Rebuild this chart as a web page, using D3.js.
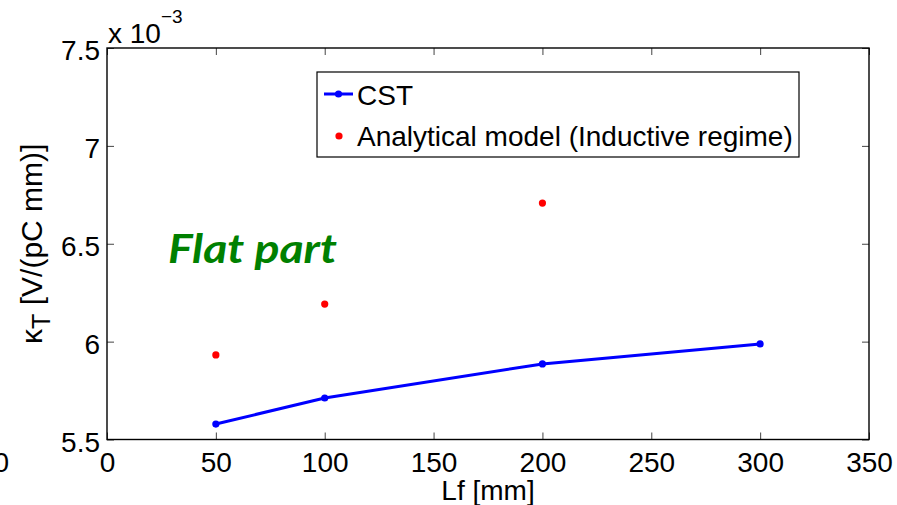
<!DOCTYPE html>
<html>
<head>
<meta charset="utf-8">
<script src="https://cdn.jsdelivr.net/npm/d3@7"></script>
<style>
  body { margin: 0; background: #fff; }
  svg { display: block; }
  text { font-family: "Liberation Sans", Arial, Helvetica, sans-serif; }
</style>
</head>
<body>
<svg id="chart" width="897" height="505"></svg>
<script>
// ---- data ----
const lf = [50, 100, 200, 300];                       // Lf [mm]
const cst = [5.579e-3, 5.712e-3, 5.886e-3, 5.988e-3];  // CST
const lfModel = [50, 100, 200];
const analytical = [5.932e-3, 6.192e-3, 6.708e-3];    // Analytical model (Inductive regime)
const xTicks = [0, 50, 100, 150, 200, 250, 300, 350];
const yTicks = [5.5e-3, 6e-3, 6.5e-3, 7e-3, 7.5e-3];
const seriesNames = ["CST", "Analytical model (Inductive regime)"];

const svg = d3.select("#chart");
const L = 107, R = 869, T = 48, B = 439.5;
const x = d3.scaleLinear().domain([0, 350]).range([L, R]);
const y = d3.scaleLinear().domain([5.5e-3, 7.5e-3]).range([B, T]);
const fs = 28;
const tickLen = 7;

const g = svg.append("g");
// bottom axis
const xb = d3.axisBottom(x).tickValues(xTicks).tickSize(-tickLen).tickSizeOuter(0).tickFormat(d => d3.format("d")(d)).tickPadding(0);
const gxb = g.append("g").attr("transform", `translate(0,${B})`).call(xb);
gxb.selectAll("text").attr("font-size", fs).attr("fill", "#000").attr("dy", null).attr("y", 32.5)
  .style("font-family", '"Liberation Sans", Arial, sans-serif');
// top axis (ticks only)
const xt = d3.axisTop(x).tickValues(xTicks).tickSize(-tickLen).tickSizeOuter(0).tickFormat("");
g.append("g").attr("transform", `translate(0,${T})`).call(xt);
// left axis
const yl = d3.axisLeft(y).tickValues(yTicks).tickSize(-tickLen).tickSizeOuter(0).tickFormat(d => d3.format(".2~f")(d * 1e3)).tickPadding(0);
const gyl = g.append("g").attr("transform", `translate(${L},0)`).call(yl);
gyl.selectAll("text").attr("font-size", fs).attr("fill", "#000").attr("x", -7).attr("dy", "0.42em")
  .style("font-family", '"Liberation Sans", Arial, sans-serif');
// right axis (ticks only)
const yr = d3.axisRight(y).tickValues(yTicks).tickSize(-tickLen).tickSizeOuter(0).tickFormat("");
g.append("g").attr("transform", `translate(${R},0)`).call(yr);

g.selectAll(".tick line").attr("stroke", "#444").attr("stroke-width", 1);
g.selectAll(".domain").remove();
// box
g.append("rect").attr("x", L).attr("y", T).attr("width", R - L).attr("height", B - T)
  .attr("fill", "none").attr("stroke", "#000").attr("stroke-width", 1.4);

// stray cropped label at far left
svg.append("text").attr("x", 9).attr("y", 472).attr("text-anchor", "end").attr("font-size", fs).text("0");

// exponent label
const ex = svg.append("text").attr("x", 108).attr("y", 43).attr("font-size", fs);
ex.append("tspan").text("x 10");
ex.append("tspan").attr("font-size", 19).attr("dy", -20).text("\u22123");

// Axis labels
svg.append("text").attr("x", (L + R) / 2).attr("y", 500).attr("text-anchor", "middle").attr("font-size", fs).text("Lf [mm]");
const yLab = svg.append("text").attr("transform", `translate(42,${(T + B) / 2}) rotate(-90)`)
  .attr("text-anchor", "middle").attr("font-size", 30);
yLab.append("tspan").text("\u03ba");
yLab.append("tspan").attr("font-size", 25).attr("dy", 8).text("T");
yLab.append("tspan").attr("dy", -8).text(" [V/(pC mm)]");

// CST line
const line = d3.line().x((d, i) => x(lf[i])).y(d => y(d));
svg.append("path").datum(cst).attr("d", line).attr("fill", "none").attr("stroke", "#0000ff").attr("stroke-width", 3);
svg.selectAll("circle.cst").data(cst).enter().append("circle").attr("class", "cst")
  .attr("cx", (d, i) => x(lf[i])).attr("cy", d => y(d)).attr("r", 3.6).attr("fill", "#0000ff");

// analytical dots
svg.selectAll("circle.ana").data(analytical).enter().append("circle").attr("class", "ana")
  .attr("cx", (d, i) => x(lfModel[i])).attr("cy", d => y(d)).attr("r", 3.6).attr("fill", "#ff0000");

// annotation
svg.append("text").attr("x", 168).attr("y", 263).attr("font-size", 40)
  .attr("font-weight", "bold").attr("font-style", "italic").attr("fill", "#008000")
  .style("font-family", 'Lato, "Open Sans", sans-serif')
  .attr("textLength", 169).attr("lengthAdjust", "spacingAndGlyphs").text("Flat part");

// legend
const lg = svg.append("g");
lg.append("rect").attr("x", 317).attr("y", 72).attr("width", 482).attr("height", 85)
  .attr("fill", "#fff").attr("stroke", "#000").attr("stroke-width", 1.2);
lg.append("line").attr("x1", 324).attr("x2", 353).attr("y1", 94).attr("y2", 94).attr("stroke", "#0000ff").attr("stroke-width", 3);
lg.append("circle").attr("cx", 338.5).attr("cy", 94).attr("r", 3.6).attr("fill", "#0000ff");
lg.append("text").attr("x", 357).attr("y", 105).attr("font-size", fs).text(seriesNames[0]);
lg.append("circle").attr("cx", 339).attr("cy", 136).attr("r", 3.6).attr("fill", "#ff0000");
lg.append("text").attr("x", 357).attr("y", 146).attr("font-size", fs).text(seriesNames[1]);
</script>
</body>
</html>
